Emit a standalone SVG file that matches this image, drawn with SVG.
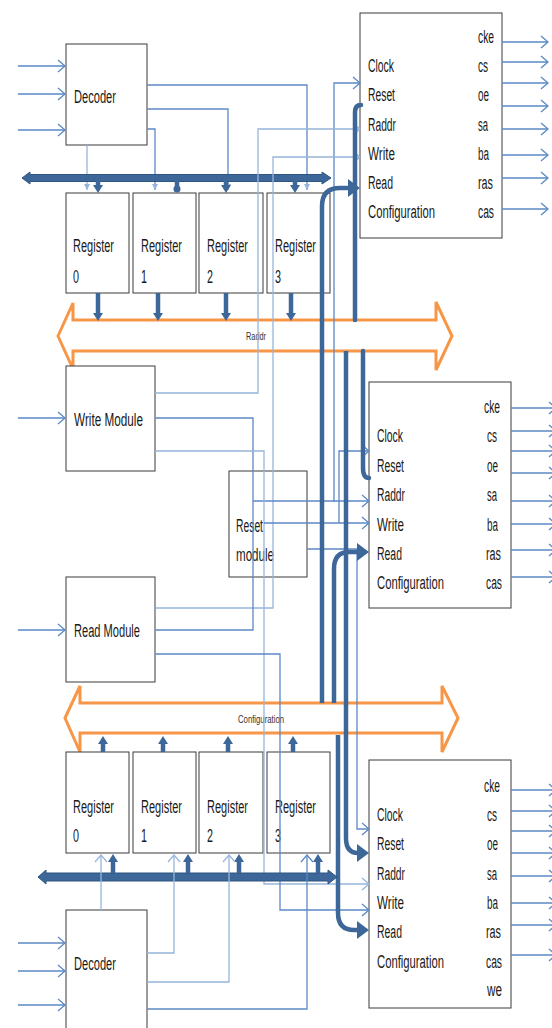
<svg xmlns="http://www.w3.org/2000/svg" width="552" height="1028" viewBox="0 0 552 1028">
<style>
.box{fill:#fff;stroke:#3a3a3a;stroke-width:1}
.t{font-family:"Liberation Sans",Arial,sans-serif;font-size:18px;fill:#1a1a1a}
.s{font-family:"Liberation Sans",Arial,sans-serif;font-size:11px;fill:#333}
.ln{fill:none;stroke:#5b89c6;stroke-width:1.3}
.lt{fill:none;stroke:#97b5dc;stroke-width:1.3}
.tk{fill:none;stroke:#3d6798;stroke-width:4.5}
.bus{fill:#3d6798;stroke:#2f5580;stroke-width:1}
.or{fill:none;stroke:#f79646;stroke-width:3}
</style>
<defs>
<marker id="ch" markerUnits="userSpaceOnUse" markerWidth="10" markerHeight="14" refX="7" refY="6" orient="auto" overflow="visible"><path d="M0,0 L7,6 L0,12" fill="none" stroke="#5b89c6" stroke-width="1.3"/></marker>
<marker id="chL" markerUnits="userSpaceOnUse" markerWidth="10" markerHeight="14" refX="7" refY="6" orient="auto" overflow="visible"><path d="M0,0 L7,6 L0,12" fill="none" stroke="#97b5dc" stroke-width="1.3"/></marker>
<marker id="sm" markerUnits="userSpaceOnUse" markerWidth="8" markerHeight="8" refX="6" refY="3" orient="auto" overflow="visible"><path d="M0,0 L6,3 L0,6 z" fill="#97b5dc"/></marker>
<marker id="th" markerUnits="userSpaceOnUse" markerWidth="10" markerHeight="12" refX="1" refY="5" orient="auto" overflow="visible"><path d="M0,0 L8,5 L0,10 z" fill="#3d6798"/></marker>
<marker id="big" markerUnits="userSpaceOnUse" markerWidth="14" markerHeight="20" refX="1" refY="9" orient="auto" overflow="visible"><path d="M0,0 L12,9 L0,18 z" fill="#3d6798"/></marker>
</defs>
<rect width="552" height="1028" fill="#fff"/>

<g id="raddr-bus">
<path class="or" d="M58,336 L73,303 L73,320 L436,320 L436,302 L452,336 L436,370 L436,351 L73,351 L73,369 Z"/>
<text class="s" x="246" y="340" textLength="20" lengthAdjust="spacingAndGlyphs">Raddr</text>
</g>
<g id="config-bus">
<path class="or" d="M65,718 L80,686 L80,703 L442,703 L442,686 L458,718 L442,752 L442,733 L80,733 L80,752 Z"/>
<text class="s" x="238" y="723" textLength="46" lengthAdjust="spacingAndGlyphs">Configuration</text>
</g>

<g id="decoder-top"><rect class="box" x="66" y="44" width="81" height="101"/><text class="t" x="74" y="103" textLength="42" lengthAdjust="spacingAndGlyphs">Decoder</text></g>
<g id="reg0-top"><rect class="box" x="66" y="193" width="63" height="100"/><text class="t" x="73" y="252" textLength="41" lengthAdjust="spacingAndGlyphs">Register</text><text class="t" x="73" y="283" textLength="6" lengthAdjust="spacingAndGlyphs">0</text></g>
<g id="reg1-top"><rect class="box" x="133" y="193" width="63" height="100"/><text class="t" x="141" y="252" textLength="41" lengthAdjust="spacingAndGlyphs">Register</text><text class="t" x="141" y="283" textLength="6" lengthAdjust="spacingAndGlyphs">1</text></g>
<g id="reg2-top"><rect class="box" x="199" y="193" width="64" height="100"/><text class="t" x="207" y="252" textLength="41" lengthAdjust="spacingAndGlyphs">Register</text><text class="t" x="207" y="283" textLength="6" lengthAdjust="spacingAndGlyphs">2</text></g>
<g id="reg3-top"><rect class="box" x="267" y="193" width="63" height="100"/><text class="t" x="275" y="252" textLength="41" lengthAdjust="spacingAndGlyphs">Register</text><text class="t" x="275" y="283" textLength="6" lengthAdjust="spacingAndGlyphs">3</text></g>
<g id="write-module"><rect class="box" x="66" y="366" width="89" height="105"/><text class="t" x="74" y="426" textLength="69" lengthAdjust="spacingAndGlyphs">Write Module</text></g>
<g id="reset-module"><rect class="box" x="229" y="471" width="78" height="106"/><text class="t" x="236" y="532" textLength="27" lengthAdjust="spacingAndGlyphs">Reset</text><text class="t" x="236" y="561" textLength="38" lengthAdjust="spacingAndGlyphs">module</text></g>
<g id="read-module"><rect class="box" x="66" y="577" width="89" height="105"/><text class="t" x="74" y="637" textLength="66" lengthAdjust="spacingAndGlyphs">Read Module</text></g>
<g id="reg0-bot"><rect class="box" x="66" y="752" width="63" height="101"/><text class="t" x="73" y="813" textLength="41" lengthAdjust="spacingAndGlyphs">Register</text><text class="t" x="73" y="842" textLength="6" lengthAdjust="spacingAndGlyphs">0</text></g>
<g id="reg1-bot"><rect class="box" x="133" y="752" width="63" height="101"/><text class="t" x="141" y="813" textLength="41" lengthAdjust="spacingAndGlyphs">Register</text><text class="t" x="141" y="842" textLength="6" lengthAdjust="spacingAndGlyphs">1</text></g>
<g id="reg2-bot"><rect class="box" x="199" y="752" width="64" height="101"/><text class="t" x="207" y="813" textLength="41" lengthAdjust="spacingAndGlyphs">Register</text><text class="t" x="207" y="842" textLength="6" lengthAdjust="spacingAndGlyphs">2</text></g>
<g id="reg3-bot"><rect class="box" x="267" y="752" width="63" height="101"/><text class="t" x="275" y="813" textLength="41" lengthAdjust="spacingAndGlyphs">Register</text><text class="t" x="275" y="842" textLength="6" lengthAdjust="spacingAndGlyphs">3</text></g>
<g id="decoder-bot"><rect class="box" x="66" y="910" width="81" height="125"/><text class="t" x="74" y="970" textLength="42" lengthAdjust="spacingAndGlyphs">Decoder</text></g>

<g id="ctrl-top"><rect class="box" x="360" y="13" width="142" height="225"/>
<text class="t" x="368" y="72" textLength="26" lengthAdjust="spacingAndGlyphs">Clock</text>
<text class="t" x="368" y="101" textLength="27" lengthAdjust="spacingAndGlyphs">Reset</text>
<text class="t" x="368" y="131" textLength="28" lengthAdjust="spacingAndGlyphs">Raddr</text>
<text class="t" x="368" y="160" textLength="27" lengthAdjust="spacingAndGlyphs">Write</text>
<text class="t" x="368" y="189" textLength="25" lengthAdjust="spacingAndGlyphs">Read</text>
<text class="t" x="368" y="218" textLength="67" lengthAdjust="spacingAndGlyphs">Configuration</text>
<text class="t" x="478" y="43" textLength="16" lengthAdjust="spacingAndGlyphs">cke</text>
<text class="t" x="478" y="72" textLength="10" lengthAdjust="spacingAndGlyphs">cs</text>
<text class="t" x="478" y="101" textLength="11" lengthAdjust="spacingAndGlyphs">oe</text>
<text class="t" x="478" y="131" textLength="10" lengthAdjust="spacingAndGlyphs">sa</text>
<text class="t" x="478" y="160" textLength="11" lengthAdjust="spacingAndGlyphs">ba</text>
<text class="t" x="478" y="189" textLength="15" lengthAdjust="spacingAndGlyphs">ras</text>
<text class="t" x="478" y="218" textLength="16" lengthAdjust="spacingAndGlyphs">cas</text>
</g>
<g id="ctrl-mid"><rect class="box" x="369" y="382" width="142" height="226"/>
<text class="t" x="377" y="442" textLength="26" lengthAdjust="spacingAndGlyphs">Clock</text>
<text class="t" x="377" y="472" textLength="27" lengthAdjust="spacingAndGlyphs">Reset</text>
<text class="t" x="377" y="501" textLength="28" lengthAdjust="spacingAndGlyphs">Raddr</text>
<text class="t" x="377" y="531" textLength="27" lengthAdjust="spacingAndGlyphs">Write</text>
<text class="t" x="377" y="560" textLength="25" lengthAdjust="spacingAndGlyphs">Read</text>
<text class="t" x="377" y="589" textLength="67" lengthAdjust="spacingAndGlyphs">Configuration</text>
<text class="t" x="484" y="413" textLength="16" lengthAdjust="spacingAndGlyphs">cke</text>
<text class="t" x="487" y="442" textLength="10" lengthAdjust="spacingAndGlyphs">cs</text>
<text class="t" x="487" y="472" textLength="11" lengthAdjust="spacingAndGlyphs">oe</text>
<text class="t" x="487" y="501" textLength="10" lengthAdjust="spacingAndGlyphs">sa</text>
<text class="t" x="487" y="531" textLength="11" lengthAdjust="spacingAndGlyphs">ba</text>
<text class="t" x="486" y="560" textLength="15" lengthAdjust="spacingAndGlyphs">ras</text>
<text class="t" x="486" y="589" textLength="16" lengthAdjust="spacingAndGlyphs">cas</text>
</g>
<g id="ctrl-bot"><rect class="box" x="369" y="760" width="142" height="248"/>
<text class="t" x="377" y="821" textLength="26" lengthAdjust="spacingAndGlyphs">Clock</text>
<text class="t" x="377" y="850" textLength="27" lengthAdjust="spacingAndGlyphs">Reset</text>
<text class="t" x="377" y="880" textLength="28" lengthAdjust="spacingAndGlyphs">Raddr</text>
<text class="t" x="377" y="909" textLength="27" lengthAdjust="spacingAndGlyphs">Write</text>
<text class="t" x="377" y="938" textLength="25" lengthAdjust="spacingAndGlyphs">Read</text>
<text class="t" x="377" y="968" textLength="67" lengthAdjust="spacingAndGlyphs">Configuration</text>
<text class="t" x="484" y="792" textLength="16" lengthAdjust="spacingAndGlyphs">cke</text>
<text class="t" x="487" y="821" textLength="10" lengthAdjust="spacingAndGlyphs">cs</text>
<text class="t" x="487" y="850" textLength="11" lengthAdjust="spacingAndGlyphs">oe</text>
<text class="t" x="487" y="880" textLength="10" lengthAdjust="spacingAndGlyphs">sa</text>
<text class="t" x="487" y="909" textLength="11" lengthAdjust="spacingAndGlyphs">ba</text>
<text class="t" x="486" y="938" textLength="15" lengthAdjust="spacingAndGlyphs">ras</text>
<text class="t" x="486" y="968" textLength="16" lengthAdjust="spacingAndGlyphs">cas</text>
<text class="t" x="487" y="996" textLength="15" lengthAdjust="spacingAndGlyphs">we</text>
</g>

<g id="connectors">
<path class="ln" marker-end="url(#ch)" d="M18,66 H65"/>
<path class="ln" marker-end="url(#ch)" d="M18,94 H65"/>
<path class="ln" marker-end="url(#ch)" d="M18,130 H65"/>
<path class="ln" marker-end="url(#ch)" d="M18,418 H65"/>
<path class="ln" marker-end="url(#ch)" d="M18,630 H65"/>
<path class="ln" marker-end="url(#ch)" d="M18,943 H65"/>
<path class="ln" marker-end="url(#ch)" d="M18,971 H65"/>
<path class="ln" marker-end="url(#ch)" d="M18,1005 H65"/>
<path class="lt" marker-end="url(#sm)" d="M87,145 V190"/>
<path class="ln" marker-end="url(#sm)" d="M147,129 H155 V190"/>
<path class="ln" marker-end="url(#sm)" d="M147,109 H228 V190"/>
<path class="ln" marker-end="url(#sm)" d="M147,85 H307 V190"/>
<path class="bus" d="M22,178 L30,172 L30,174.5 L322,174.5 L322,172 L331,178 L322,184 L322,181.5 L30,181.5 L30,184 Z"/>
<path class="tk" stroke-width="3" marker-end="url(#th)" d="M98,181 V186"/>
<path class="tk" stroke-width="3" d="M177,181 V188"/><circle cx="177" cy="189" r="3.5" fill="#3d6798"/>
<path class="tk" stroke-width="3" marker-end="url(#th)" d="M226,181 V186"/>
<path class="tk" stroke-width="3" marker-end="url(#th)" d="M295,181 V186"/>
<path class="tk" stroke-width="4" marker-end="url(#th)" d="M98,293 V314"/>
<path class="tk" stroke-width="4" marker-end="url(#th)" d="M158,293 V314"/>
<path class="tk" stroke-width="4" marker-end="url(#th)" d="M226,293 V314"/>
<path class="tk" stroke-width="4" marker-end="url(#th)" d="M291,293 V314"/>
<path class="ln" marker-end="url(#ch)" d="M334,502 V83 H360"/>
<path class="lt" marker-end="url(#chL)" d="M155,393 H258 V129 H360"/>
<path class="lt" marker-end="url(#chL)" d="M155,608 H273 V157 H360"/>
<path class="ln" marker-end="url(#ch)" d="M502,42 H548"/>
<path class="ln" marker-end="url(#ch)" d="M502,62 H548"/>
<path class="ln" marker-end="url(#ch)" d="M502,83 H548"/>
<path class="ln" marker-end="url(#ch)" d="M502,106 H548"/>
<path class="ln" marker-end="url(#ch)" d="M502,129 H548"/>
<path class="ln" marker-end="url(#ch)" d="M502,155 H548"/>
<path class="ln" marker-end="url(#ch)" d="M502,178 H548"/>
<path class="ln" marker-end="url(#ch)" d="M502,209 H548"/>
<path class="ln" marker-end="url(#ch)" d="M155,418 H253 V630 H155 M253,501 H369"/>
<path class="lt" marker-end="url(#chL)" d="M155,451 H264 V884 H369"/>
<path class="ln" marker-end="url(#ch)" d="M264,523 H369"/>
<path class="ln" marker-end="url(#ch)" d="M339,523 V451 H369"/>
<path class="ln" marker-end="url(#ch)" d="M307,549 H357 V829 H369"/>
<path class="ln" marker-end="url(#ch)" d="M155,654 H280 V910 H369"/>
<path class="ln" marker-end="url(#ch)" d="M511,408 H556"/>
<path class="ln" marker-end="url(#ch)" d="M511,431 H556"/>
<path class="ln" marker-end="url(#ch)" d="M511,451 H556"/>
<path class="ln" marker-end="url(#ch)" d="M511,473 H556"/>
<path class="ln" marker-end="url(#ch)" d="M511,501 H556"/>
<path class="ln" marker-end="url(#ch)" d="M511,524 H556"/>
<path class="ln" marker-end="url(#ch)" d="M511,550 H556"/>
<path class="ln" marker-end="url(#ch)" d="M511,577 H556"/>
<path class="ln" marker-end="url(#ch)" d="M511,790 H556"/>
<path class="ln" marker-end="url(#ch)" d="M511,811 H556"/>
<path class="ln" marker-end="url(#ch)" d="M511,831 H556"/>
<path class="ln" marker-end="url(#ch)" d="M511,853 H556"/>
<path class="ln" marker-end="url(#ch)" d="M511,876 H556"/>
<path class="ln" marker-end="url(#ch)" d="M511,903 H556"/>
<path class="ln" marker-end="url(#ch)" d="M511,925 H556"/>
<path class="ln" marker-end="url(#ch)" d="M511,955 H556"/>
<path class="tk" stroke-linecap="round" d="M355,320 V112 Q355,105 361,105"/>
<path class="tk" marker-end="url(#big)" d="M322,703 V206 Q322,188 340,188 H349"/>
<path class="tk" stroke-linecap="round" d="M363,351 V468 Q363,478 369,478"/>
<path class="tk" marker-end="url(#big)" d="M334,703 V569 Q334,552 349,552 H358"/>
<path class="tk" marker-end="url(#big)" d="M346,351 V838 Q346,853 358,853"/>
<path class="tk" marker-end="url(#big)" d="M338,735 V913 Q338,930 354,930 H358"/>
<path class="tk" stroke-width="3.5" marker-end="url(#th)" d="M103,752 V743"/>
<path class="tk" stroke-width="3.5" marker-end="url(#th)" d="M163,752 V743"/>
<path class="tk" stroke-width="3.5" marker-end="url(#th)" d="M228,752 V743"/>
<path class="tk" stroke-width="3.5" marker-end="url(#th)" d="M293,752 V743"/>
<path class="bus" d="M38,877 L46,870 L46,873 L328,873 L328,870 L337,877 L328,884 L328,881 L46,881 L46,884 Z"/>
<path class="tk" stroke-width="3.5" marker-end="url(#th)" d="M113,873 V861"/>
<path class="tk" stroke-width="4.5" marker-end="url(#th)" d="M188,873 V861"/>
<path class="tk" stroke-width="3.5" marker-end="url(#th)" d="M239,873 V861"/>
<path class="tk" stroke-width="3.5" marker-end="url(#th)" d="M318,873 V861"/>
<path class="lt" marker-end="url(#chL)" d="M101,910 V855"/>
<path class="lt" marker-end="url(#chL)" d="M147,953 H174 V855"/>
<path class="lt" marker-end="url(#chL)" d="M147,982 H229 V855"/>
<path class="ln" marker-end="url(#ch)" d="M147,1009 H307 V855"/>
</g>
</svg>
